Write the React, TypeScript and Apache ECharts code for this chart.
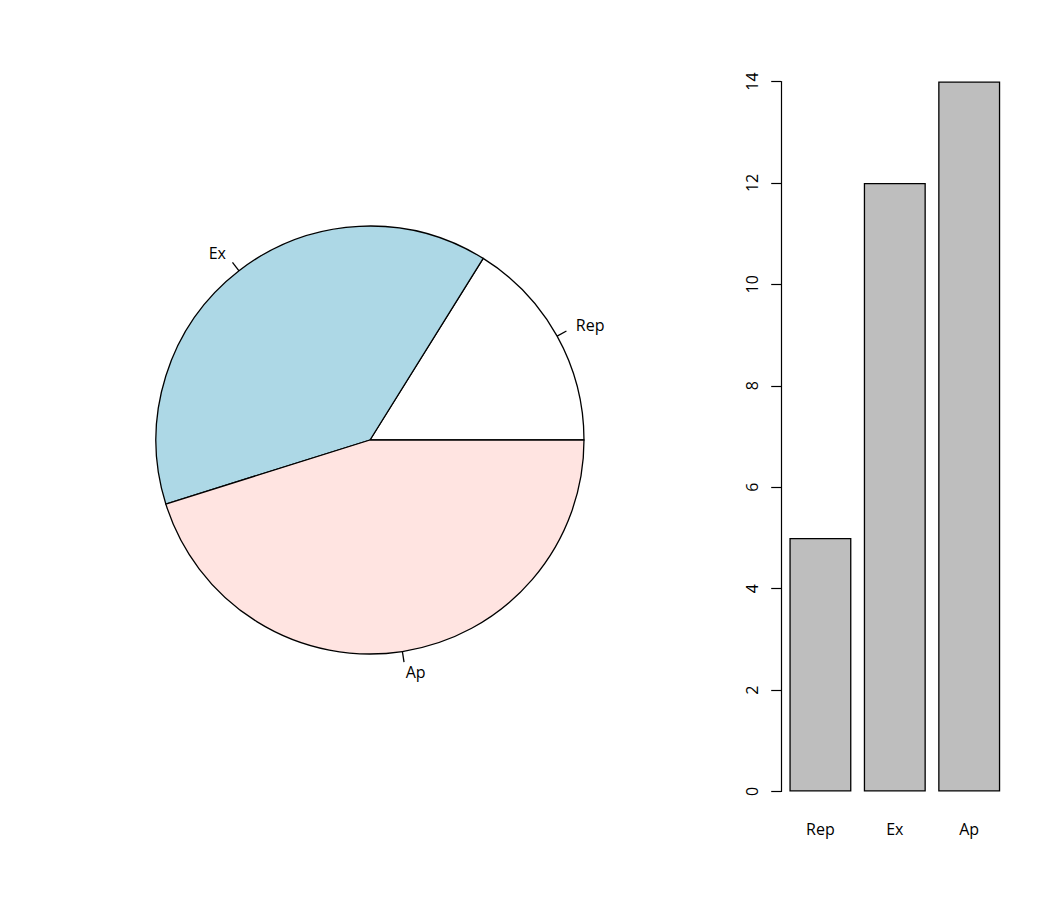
import React, { useEffect, useRef } from "react";
import * as echarts from "echarts";

const categories = ["Rep", "Ex", "Ap"];
const values = [5, 12, 14];
const pieColors = ["#FFFFFF", "#ADD8E6", "#FFE4E1"];
const barColor = "#BEBEBE";
const yTicks = [0, 2, 4, 6, 8, 10, 12, 14];

const FONT = "Open Sans";
const FS = 16;
const R = 214;
const CX = 370;
const CY = 440;

export default function App() {
  const ref = useRef<HTMLDivElement>(null);
  useEffect(() => {
    if (!ref.current) return;
    const chart = echarts.init(ref.current, undefined, { renderer: "svg" });
    const pieData = categories.map((c, i) => ({
      name: c,
      value: values[i],
      itemStyle: { color: pieColors[i] },
    }));
    const total = values.reduce((a, b) => a + b, 0);
    chart.setOption({
      animation: false,
      textStyle: { fontFamily: FONT },
      grid: { left: 783.2, width: 223.2, top: 81.5, height: 710 },
      xAxis: {
        type: "category",
        data: categories,
        axisLine: { show: false },
        axisTick: { show: false },
        axisLabel: { margin: 29, fontSize: FS, color: "#000", fontFamily: FONT },
      },
      yAxis: {
        type: "value",
        min: yTicks[0],
        max: yTicks[yTicks.length - 1],
        interval: 2,
        offset: 2,
        splitLine: { show: false },
        axisLine: { show: true, lineStyle: { color: "#000", width: 1.2 } },
        axisTick: { show: true, length: 10, lineStyle: { color: "#000", width: 1.2 } },
        axisLabel: { rotate: 90, margin: 21, fontSize: FS, color: "#000", fontFamily: FONT },
      },
      series: [
        {
          type: "pie",
          name: "pie",
          center: [CX, CY],
          radius: R,
          startAngle: 0,
          clockwise: false,
          avoidLabelOverlap: false,
          z: 2,
          data: pieData,
          itemStyle: { borderColor: "#000", borderWidth: 1.3 },
          label: { show: false },
          labelLine: { show: false },
          emphasis: { disabled: true },
        },
        {
          type: "custom",
          coordinateSystem: "none",
          silent: true,
          z: 3,
          data: values.map((v, i) => [i, v]),
          renderItem: (params: any, api: any) => {
            const i = params.dataIndex;
            let before = 0;
            for (let k = 0; k < i; k++) before += values[k];
            const mid = ((before + values[i] / 2) / total) * Math.PI * 2;
            const dx = Math.cos(mid);
            const dy = -Math.sin(mid);
            return {
              type: "group",
              children: [
                {
                  type: "line",
                  shape: {
                    x1: CX + R * dx,
                    y1: CY + R * dy,
                    x2: CX + R * 1.05 * dx,
                    y2: CY + R * 1.05 * dy,
                  },
                  style: { stroke: "#000", lineWidth: 1.3 },
                },
                {
                  type: "text",
                  x: CX + R * 1.1 * dx,
                  y: CY + R * 1.1 * dy - 0.5,
                  style: {
                    text: categories[i],
                    fill: "#000",
                    font: `${FS}px "${FONT}"`,
                    align: dx >= 0 ? "left" : "right",
                    verticalAlign: "middle",
                  },
                },
              ],
            };
          },
        },
        {
          type: "bar",
          data: values,
          barWidth: 62,
          itemStyle: { color: barColor, borderColor: "#000", borderWidth: 1.3 },
          emphasis: { disabled: true },
        },
      ],
    });
    return () => chart.dispose();
  }, []);
  return (
    <div
      ref={ref}
      style={{ position: "absolute", left: 0, top: 0, width: 1050, height: 900, background: "#fff" }}
    />
  );
}
